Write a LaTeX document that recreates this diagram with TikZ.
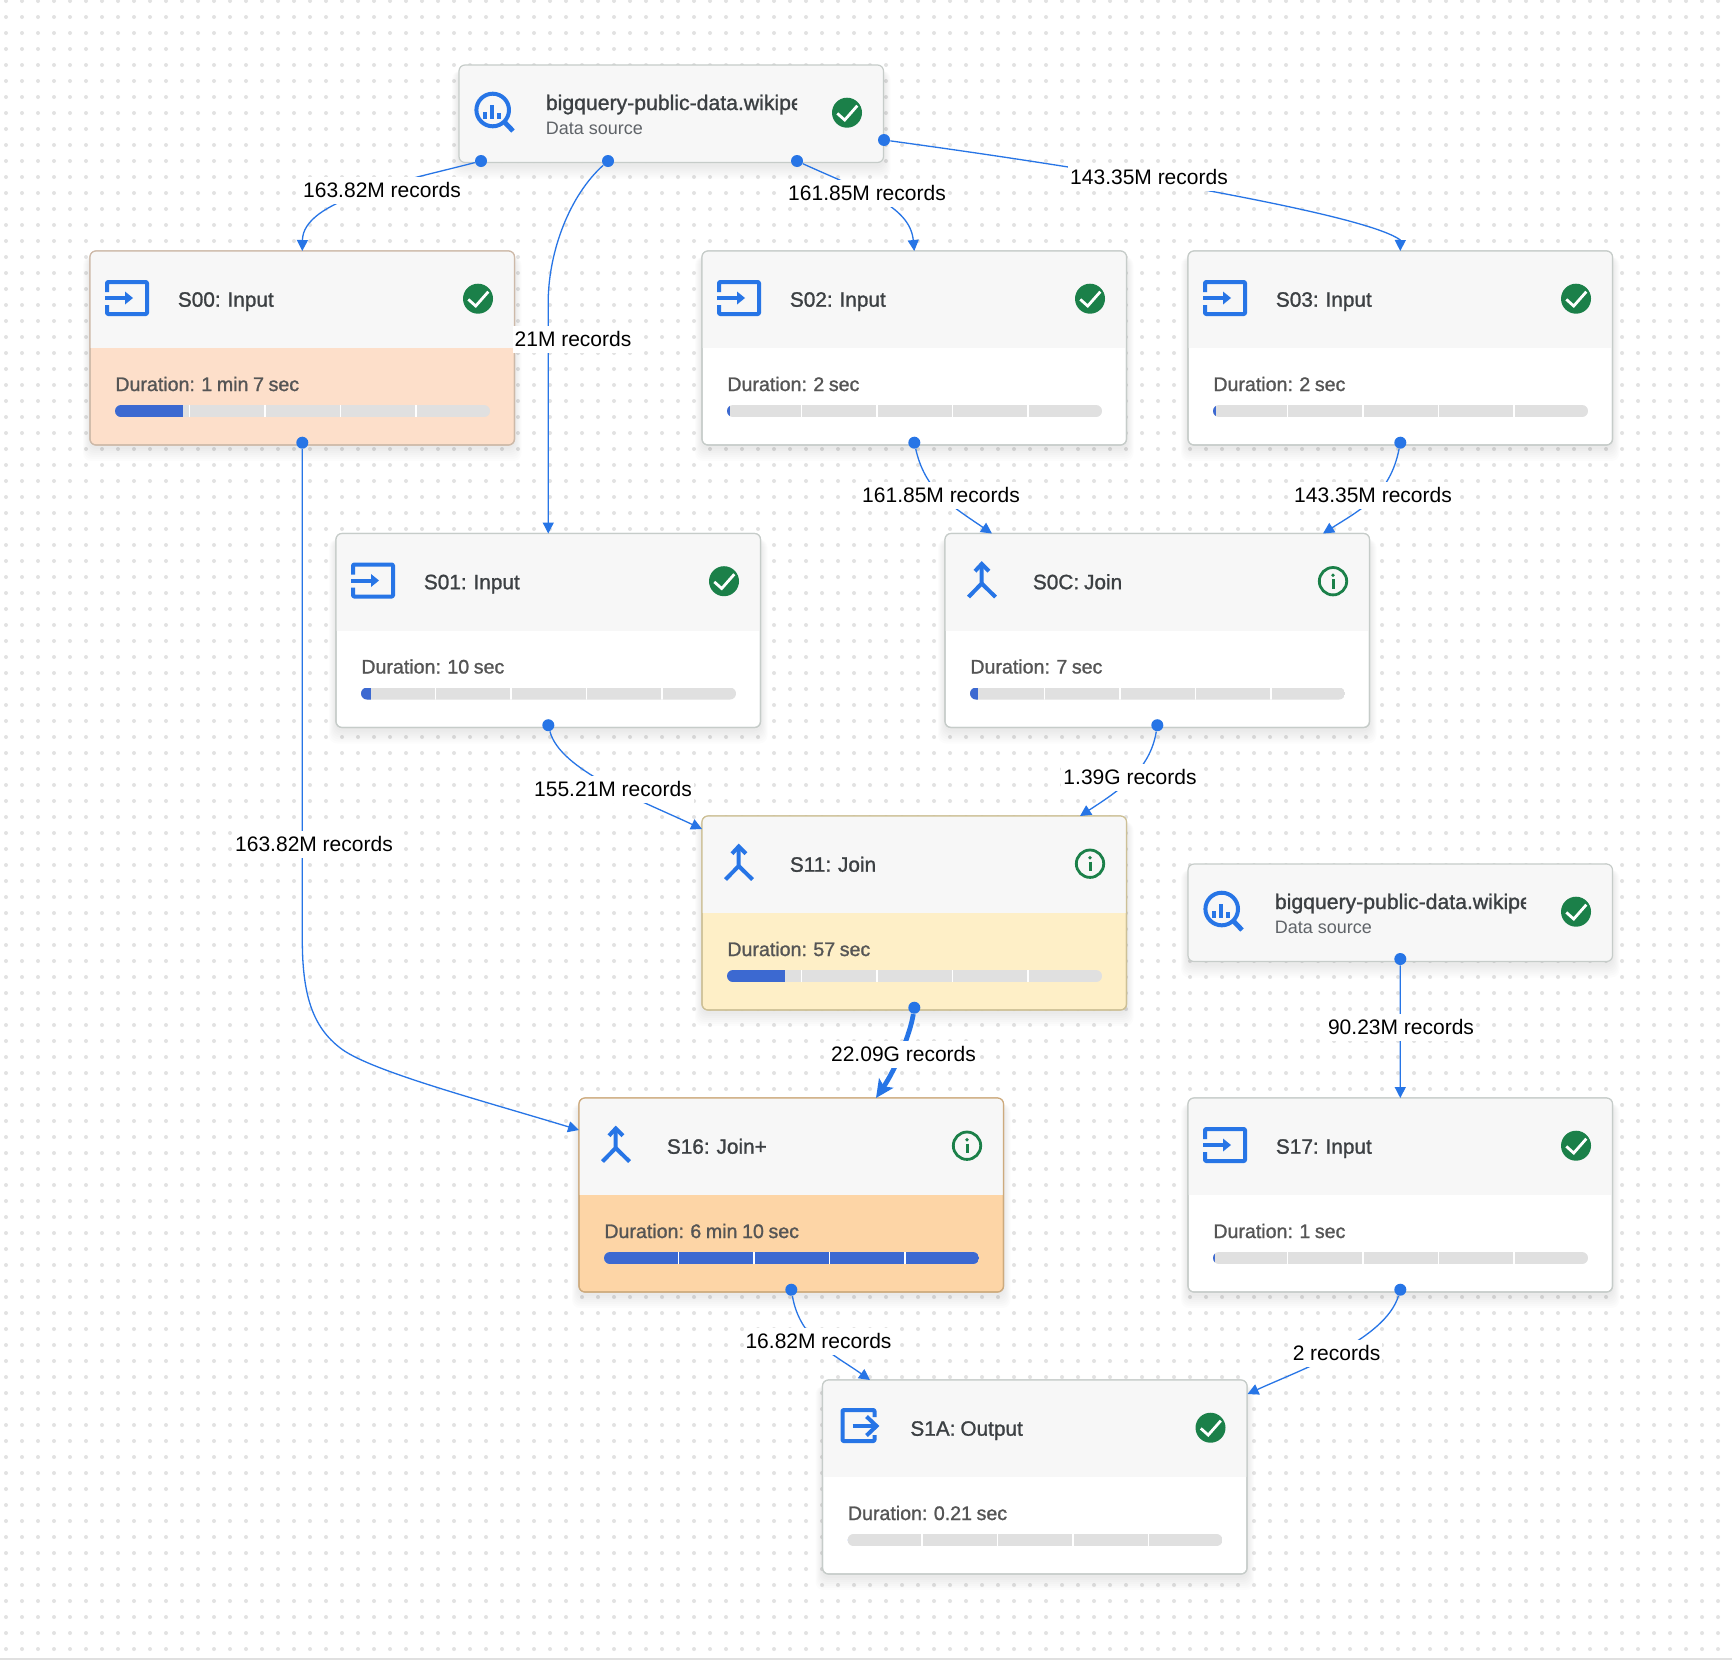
\documentclass[tikz,border=0pt]{standalone}
\usepackage{fontspec}
\usepackage{tikz}
\usetikzlibrary{arrows.meta,calc,positioning}
\setmainfont{Liberation Sans}
\newfontfamily\medfont[FakeBold=1.2,WordSpace=0.85]{Liberation Sans}
\definecolor{myblue}{HTML}{2775E6}
\definecolor{mygreen}{HTML}{1B8049}
\definecolor{barblue}{HTML}{3C69D1}
\definecolor{trackgray}{HTML}{E0E0E0}
\definecolor{griddot}{HTML}{E2E2E2}
\definecolor{headfill}{HTML}{F7F7F7}
\definecolor{inktext}{HTML}{3C4043}
\definecolor{softtext}{HTML}{5F6368}
\definecolor{durink}{HTML}{555555}
\tikzset{
    plaincard/.style={fill=white,draw={rgb,255:red,198;green,204;blue,201}},
    peachcard/.style={fill={rgb,255:red,253;green,223;blue,202},draw={rgb,255:red,205;green,185;blue,168}},
    yellowcard/.style={fill={rgb,255:red,254;green,239;blue,199},draw={rgb,255:red,205;green,192;blue,150}},
    orangecard/.style={fill={rgb,255:red,253;green,213;blue,166},draw={rgb,255:red,205;green,170;blue,125}},
    graycard/.style={fill=headfill,draw={rgb,255:red,198;green,204;blue,201}},
    cardbox/.style={rectangle,rounded corners=3pt,line width=.6pt,inner sep=0pt,outer sep=0pt,anchor=north west,minimum width=212.25pt},
    port/.style={circle,fill=myblue,inner sep=0pt,minimum size=6pt},
    titletext/.style={anchor=base west,inner sep=0pt,text=inktext,font=\medfont\fontsize{10.4}{12}\selectfont},
    sourcetext/.style={anchor=base west,inner sep=0pt,text=inktext,font=\medfont\fontsize{10.6}{12}\selectfont},
    durtext/.style={anchor=base west,inner sep=0pt,text=durink,font=\medfont\fontsize{9.8}{12}\selectfont},
    subtext/.style={anchor=base west,inner sep=0pt,text=softtext,font=\fontsize{9}{12}\selectfont},
    reclabel/.style={fill=white,text=black,inner xsep=1pt,inner ysep=0pt,minimum height=13.5pt,font=\fontsize{10.5}{12}\selectfont},
    flow/.style={draw=myblue,line width=.65pt,-{Triangle[length=5.5pt,width=5.5pt]}},
    bigflow/.style={draw=myblue,line width=2.4pt,-{Stealth[length=9pt,width=8.5pt,inset=2pt]}},
    icon/.style={draw=myblue,line width=2pt,line join=round},
    dotrow/.style={griddot,line width=2pt,line cap=round,dash pattern=on 0pt off 8pt},
}
% status marks and stage icons, coordinates relative to the card corner
\newcommand{\okmark}{%
    \fill[mygreen] (388,47.7) circle (15);
    \draw[white,line width=1.4pt] (378.3,48.4) -- (385.7,55) -- (398.3,40.7);
}
\newcommand{\infomark}{%
    \draw[mygreen,line width=1.4pt] (388,47.7) circle (13.7);
    \fill[mygreen] (388,41.7) circle (1.9);
    \draw[mygreen,line width=1.5pt] (388,45.7) -- (388,55);
}
\newcommand{\inputicon}{%
    \draw[icon,rounded corners=.5pt] (17,41) -- (17,31) -- (57,31) -- (57,63) -- (17,63) -- (17,54);
    \draw[icon] (15,47) -- (36,47);
    \fill[myblue] (35,40.5) -- (43,47) -- (35,53.5) -- cycle;
}
\newcommand{\outputicon}{%
    \draw[icon,rounded corners=.5pt] (52,37) -- (52,30) -- (20,30) -- (20,61) -- (52,61) -- (52,55);
    \draw[icon] (30,46) -- (53,46);
    \draw[icon,line join=miter] (44,36.5) -- (54,46) -- (44,55.5);
}
\newcommand{\joinicon}{%
    \draw[icon] (36.7,31) -- (36.7,50) -- (23.5,63.5);
    \draw[icon] (36.7,50) -- (50.5,63.5);
    \draw[icon,line join=miter] (30,37.7) -- (36.7,30.5) -- (44,37.7);
}
\newcommand{\dataicon}{%
    \draw[icon] (33.7,45) circle (16.3);
    \draw[icon,line width=2.4pt] (44.5,56) -- (54,66);
    \foreach \bx/\by in {26/46.5,32.7/40,40/47.5}{
        \fill[myblue] (\bx-2,\by) rectangle (\bx+2,54);
    }
}
\newcommand{\cardshadow}[1]{%
    \foreach \s in {2,4,...,14}{
        \fill[black,fill opacity=.012,rounded corners=4pt] (-\s/2,6) rectangle (424.5+\s/2,#1+2+\s);
    }
}
% name, x, y, card style, title, duration, bar length, icon, status
\newcommand{\stagecard}[9]{%
    \begin{scope}[shift={(#2,#3)}]
        \cardshadow{194}
        \node[cardbox,#4,minimum height=97pt] (#1) at (0,0) {};
        \begin{scope}
            \clip[rounded corners=3pt] (0,0) rectangle (424.5,194);
            \fill[headfill] (0,0) rectangle (424.5,97);
        \end{scope}
        \path[#4,fill=none,line width=.6pt,rounded corners=3pt] (0,0) rectangle (424.5,194);
        #8
        #9
        \node[titletext] (#1title) at (87.5,55.7) {#5};
        \node[durtext] (#1dur) at (25,140) {Duration: #6};
        \begin{scope}
            \clip[rounded corners=3pt] (25,154) rectangle (400,166);
            \fill[trackgray] (25,154) rectangle (400,166);
            \fill[barblue] (25,154) rectangle (25+#7,166);
            \foreach \k in {99.5,175,250.5,326}{
                \draw[white,line width=.75pt] (\k,154) -- (\k,166);
            }
        \end{scope}
    \end{scope}
}
% name, x, y
\newcommand{\sourcecard}[3]{%
    \begin{scope}[shift={(#2,#3)}]
        \cardshadow{97.5}
        \node[cardbox,graycard,minimum height=48.75pt] (#1) at (0,0) {};
        \dataicon
        \okmark
        \begin{scope}
            \clip (80,0) rectangle (338,97);
            \node[sourcetext] (#1title) at (86.5,45) {bigquery-public-data.wikipe};
        \end{scope}
        \node[subtext] (#1sub) at (86.5,69) {Data source};
    \end{scope}
}

\begin{document}
\begin{tikzpicture}[x=.5pt,y=-.5pt]
    \useasboundingbox (0,0) rectangle (1732,1660);
    \fill[white] (0,0) rectangle (1732,1660);

    \foreach \y in {1,17,...,1649}{% one row of grid dots
        \draw[dotrow] (6,\y) -- (1720,\y);
    }
    \fill[trackgray] (0,1658) rectangle (1732,1660);

    \sourcecard{srcA}{459}{65}
    \sourcecard{srcB}{1188}{864}

    \stagecard{s00}{90}{251}{peachcard}{S00: Input}{1 min 7 sec}{68}{\inputicon}{\okmark}
    \stagecard{s02}{702}{251}{plaincard}{S02: Input}{2 sec}{3}{\inputicon}{\okmark}
    \stagecard{s03}{1188}{251}{plaincard}{S03: Input}{2 sec}{3}{\inputicon}{\okmark}
    \stagecard{s01}{336}{533.5}{plaincard}{S01: Input}{10 sec}{10}{\inputicon}{\okmark}
    \stagecard{s0c}{945}{533.5}{plaincard}{S0C: Join}{7 sec}{7.5}{\joinicon}{\infomark}
    \stagecard{s11}{702}{816}{yellowcard}{S11: Join}{57 sec}{57.5}{\joinicon}{\infomark}
    \stagecard{s16}{579}{1098}{orangecard}{S16: Join+}{6 min 10 sec}{375}{\joinicon}{\infomark}
    \stagecard{s17}{1188}{1098}{plaincard}{S17: Input}{1 sec}{1.5}{\inputicon}{\okmark}
    \stagecard{s1a}{822.5}{1380}{plaincard}{S1A: Output}{0.21 sec}{0}{\outputicon}{\okmark}

    % the lower port of every stage that has an outgoing flow
    \foreach \c in {s00,s01,s02,s03,s0c,s11,s16,s17}{
        \node[port] (\c-out) at ([shift={(212.3,191.7)}]\c.north west) {};
    }
    % ports of the two data sources
    \node[port] (srcAa) at (481,161) {};
    \node[port] (srcAb) at (608,161) {};
    \node[port] (srcAc) at (797,161) {};
    \node[port] (srcAd) at (884,140) {};
    \node[port] (srcB-out) at (1400.3,959) {};

    % where the arrows land away from a card's top centre
    \coordinate (s0cinA) at (992,533.5);
    \coordinate (s0cinB) at (1323,533.5);
    \coordinate (s11inA) at (702,829);
    \coordinate (s11inB) at (1080,816);
    \coordinate (s16inA) at (579,1130);
    \coordinate (s16inB) at (876,1098);
    \coordinate (s1ainA) at (870,1380);
    \coordinate (s1ainB) at (1247.5,1394);

    \draw[flow] (srcAa) .. controls (400,182) and (303,200) .. (s00.north);
    \draw[flow] (srcAb) .. controls (570,195) and (549,250) .. (548.2,300) -- (s01.north);
    \draw[flow] (srcAc) .. controls (860,190) and (910,205) .. (s02.north);
    \draw[flow] (srcAd) .. controls (1030,160) and (1120,175) .. (1210,191) .. controls (1290,206) and (1380,225) .. (1400.3,240) -- (s03.north);
    \draw[flow] (s00-out) -- (302.3,940) .. controls (302.3,1000) and (315,1030) .. (343,1050) .. controls (375,1072) and (480,1100) .. (s16inA);
    \draw[flow] (s01-out) .. controls (560,770) and (640,800) .. (s11inA);
    \draw[flow] (s0c-out) .. controls (1150,770) and (1120,790) .. (s11inB);
    \draw[flow] (s02-out) .. controls (925,490) and (950,505) .. (s0cinA);
    \draw[flow] (s03-out) .. controls (1390,495) and (1360,510) .. (s0cinB);
    \draw[bigflow] (s11-out) .. controls (910,1035) and (895,1070) .. (s16inB);
    \draw[flow] (srcB-out) -- (s17.north);
    \draw[flow] (s16-out) .. controls (800,1340) and (835,1355) .. (s1ainA);
    \draw[flow] (s17-out) .. controls (1385,1340) and (1300,1370) .. (s1ainB);

    \node[reclabel] (rA) at (382,190) {163.82M records};
    \node[reclabel] (rB) at (573,339) {21M records};
    \node[reclabel] (rC) at (867,193) {161.85M records};
    \node[reclabel] (rD) at (1149,177) {143.35M records};
    \node[reclabel] (rE) at (314,844) {163.82M records};
    \node[reclabel] (rF) at (613,789) {155.21M records};
    \node[reclabel] (rG) at (1130,777) {1.39G records};
    \node[reclabel] (rH) at (941,495) {161.85M records};
    \node[reclabel] (rI) at (1373,495) {143.35M records};
    \node[reclabel] (rJ) at (903.5,1054) {22.09G records};
    \node[reclabel] (rK) at (1401,1027) {90.23M records};
    \node[reclabel] (rL) at (818.5,1341) {16.82M records};
    \node[reclabel] (rM) at (1336.5,1353) {2 records};
\end{tikzpicture}
\end{document}
